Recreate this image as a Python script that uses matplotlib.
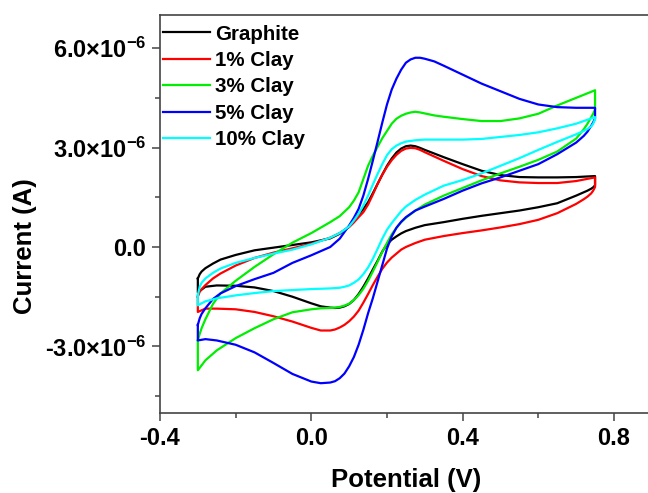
import matplotlib
matplotlib.use("Agg")
import matplotlib.pyplot as plt
from matplotlib.ticker import FixedLocator, FuncFormatter

plt.rcParams["font.family"] = ["Liberation Sans", "DejaVu Sans"]
plt.rcParams["font.weight"] = "bold"
plt.rcParams["mathtext.fontset"] = "custom"
plt.rcParams["mathtext.rm"] = "Liberation Sans:bold"
plt.rcParams["mathtext.bf"] = "Liberation Sans:bold"
plt.rcParams["mathtext.it"] = "Liberation Sans:bold"
plt.rcParams["mathtext.default"] = "rm"

# Scan potentials (V): anodic sweep, then cathodic sweep back
scan_forward_V = [-0.3, -0.295, -0.29, -0.28, -0.26, -0.24, -0.2, -0.15, -0.1, -0.05,
                  0.0, 0.05, 0.075, 0.1, 0.1125, 0.125, 0.1375, 0.15, 0.1625, 0.175,
                  0.1875, 0.2, 0.2125, 0.225, 0.2375, 0.25, 0.2625, 0.275, 0.2875, 0.3,
                  0.325, 0.35, 0.4, 0.45, 0.5, 0.55, 0.6, 0.65, 0.7, 0.75]
scan_reverse_V = [0.75, 0.745, 0.74, 0.73, 0.72, 0.7, 0.65, 0.6, 0.55, 0.5,
                  0.45, 0.4, 0.35, 0.3, 0.275, 0.25, 0.2375, 0.225, 0.2125, 0.2,
                  0.1875, 0.175, 0.1625, 0.15, 0.1375, 0.125, 0.1125, 0.1, 0.0875, 0.075,
                  0.0625, 0.05, 0.025, 0.0, -0.05, -0.1, -0.15, -0.2, -0.25, -0.28, -0.3]

# Currents in microamps
graphite_fwd = [-0.95, -0.82, -0.74, -0.64, -0.50, -0.38, -0.24, -0.10, -0.02, 0.06,
                0.14, 0.26, 0.40, 0.62, 0.80, 0.98, 1.15, 1.35, 1.62, 1.90,
                2.18, 2.45, 2.67, 2.85, 2.97, 3.04, 3.06, 3.04, 2.99, 2.93,
                2.82, 2.71, 2.50, 2.30, 2.17, 2.11, 2.10, 2.10, 2.11, 2.14]
graphite_rev = [1.86, 1.80, 1.76, 1.70, 1.65, 1.55, 1.32, 1.20, 1.10, 1.02,
                0.94, 0.85, 0.75, 0.66, 0.58, 0.48, 0.41, 0.32, 0.22, 0.08,
                -0.14, -0.42, -0.68, -0.95, -1.20, -1.42, -1.60, -1.72, -1.79, -1.83,
                -1.84, -1.83, -1.79, -1.70, -1.50, -1.33, -1.22, -1.17, -1.16, -1.20, -1.37]

clay1_fwd = [-1.50, -1.35, -1.27, -1.15, -0.95, -0.80, -0.56, -0.33, -0.17, -0.04,
             0.10, 0.28, 0.42, 0.60, 0.74, 0.90, 1.05, 1.28, 1.58, 1.90,
             2.18, 2.42, 2.62, 2.78, 2.90, 2.97, 2.99, 2.98, 2.93, 2.86,
             2.73, 2.60, 2.35, 2.14, 2.01, 1.95, 1.93, 1.93, 1.99, 2.10]
clay1_rev = [1.81, 1.70, 1.62, 1.52, 1.44, 1.30, 1.02, 0.82, 0.69, 0.59,
             0.50, 0.42, 0.33, 0.22, 0.12, 0.00, -0.08, -0.20, -0.32, -0.47,
             -0.66, -0.90, -1.15, -1.42, -1.68, -1.92, -2.10, -2.24, -2.35, -2.43,
             -2.49, -2.52, -2.52, -2.44, -2.25, -2.09, -1.96, -1.88, -1.86, -1.86, -1.96]

clay3_fwd = [-2.82, -2.62, -2.45, -2.18, -1.72, -1.40, -1.02, -0.60, -0.22, 0.13,
             0.42, 0.75, 0.93, 1.20, 1.40, 1.65, 2.05, 2.45, 2.75, 3.02,
             3.28, 3.50, 3.72, 3.87, 3.96, 4.02, 4.06, 4.08, 4.06, 4.03,
             3.97, 3.93, 3.86, 3.80, 3.80, 3.88, 4.02, 4.27, 4.50, 4.73]
clay3_rev = [4.15, 4.02, 3.92, 3.72, 3.55, 3.27, 2.88, 2.63, 2.42, 2.22,
             2.01, 1.78, 1.55, 1.28, 1.10, 0.88, 0.75, 0.58, 0.38, 0.12,
             -0.15, -0.45, -0.74, -1.02, -1.26, -1.45, -1.60, -1.71, -1.77, -1.81,
             -1.83, -1.84, -1.85, -1.88, -1.97, -2.18, -2.45, -2.75, -3.12, -3.42, -3.72]

clay5_fwd = [-2.35, -2.15, -2.02, -1.85, -1.57, -1.40, -1.18, -0.97, -0.78, -0.48,
             -0.25, 0.00, 0.25, 0.65, 0.88, 1.15, 1.55, 2.05, 2.60, 3.17,
             3.75, 4.30, 4.75, 5.08, 5.35, 5.56, 5.66, 5.71, 5.71, 5.68,
             5.60, 5.47, 5.20, 4.93, 4.70, 4.47, 4.30, 4.22, 4.20, 4.20]
clay5_rev = [3.88, 3.76, 3.66, 3.48, 3.35, 3.15, 2.80, 2.50, 2.30, 2.10,
             1.92, 1.70, 1.45, 1.22, 1.10, 0.90, 0.76, 0.58, 0.32, -0.05,
             -0.55, -1.05, -1.55, -2.00, -2.50, -2.95, -3.32, -3.60, -3.82, -3.96,
             -4.05, -4.09, -4.11, -4.06, -3.83, -3.50, -3.18, -2.95, -2.82, -2.78, -2.82]

clay10_fwd = [-1.45, -1.20, -1.08, -0.95, -0.78, -0.65, -0.48, -0.33, -0.20, -0.08,
              0.08, 0.28, 0.42, 0.62, 0.80, 1.00, 1.25, 1.55, 1.88, 2.20,
              2.50, 2.77, 2.95, 3.06, 3.13, 3.18, 3.20, 3.22, 3.23, 3.24,
              3.24, 3.24, 3.24, 3.26, 3.32, 3.38, 3.46, 3.58, 3.72, 3.92]
clay10_rev = [3.85, 3.72, 3.64, 3.56, 3.50, 3.40, 3.17, 2.93, 2.68, 2.45,
              2.22, 2.02, 1.85, 1.58, 1.42, 1.22, 1.08, 0.90, 0.72, 0.52,
              0.25, -0.06, -0.36, -0.62, -0.82, -0.98, -1.08, -1.16, -1.20, -1.23,
              -1.24, -1.25, -1.26, -1.27, -1.30, -1.33, -1.39, -1.46, -1.55, -1.64, -1.76]

labels = ["Graphite", "1% Clay", "3% Clay", "5% Clay", "10% Clay"]
colors = ["#000000", "#FF0000", "#00EE00", "#0000FF", "#00FFFF"]
series = [(graphite_fwd, graphite_rev), (clay1_fwd, clay1_rev), (clay3_fwd, clay3_rev),
          (clay5_fwd, clay5_rev), (clay10_fwd, clay10_rev)]

fig = plt.figure(figsize=(6.48, 4.93), dpi=100)
ax = fig.add_axes([160 / 648, 80.3 / 493, 491.8 / 648, 397.7 / 493])

loop_V = scan_forward_V + scan_reverse_V + scan_forward_V[:1]
for (fwd, rev), lab, col in zip(series, labels, colors):
    loop_I = [v * 1e-6 for v in fwd + rev + fwd[:1]]
    ax.plot(loop_V, loop_I, color=col, lw=1.6, label=lab, solid_joinstyle="round")

ax.set_xlim(-0.4, 0.9)
ax.set_ylim(-5.0e-6, 7.0e-6)

ax.xaxis.set_major_locator(FixedLocator([-0.4, 0.0, 0.4, 0.8]))
ax.xaxis.set_minor_locator(FixedLocator([-0.2, 0.2, 0.6]))
ax.yaxis.set_major_locator(FixedLocator([-3e-6, 0.0, 3e-6, 6e-6]))
ax.yaxis.set_minor_locator(FixedLocator([-4.5e-6, -1.5e-6, 1.5e-6, 4.5e-6]))


def fmt_x(v, pos):
    return f"{v:.1f}"


def fmt_y(v, pos):
    if abs(v) < 1e-12:
        return "0.0"
    m = v / 1e-6
    return f"{m:.1f}" + r"$\times$10$^{-6}$"


ax.xaxis.set_major_formatter(FuncFormatter(fmt_x))
ax.yaxis.set_major_formatter(FuncFormatter(fmt_y))

ax.tick_params(which="major", direction="out", length=6, width=1.1, color="#444444",
               labelsize=17, pad=4)
ax.tick_params(which="minor", direction="out", length=3.5, width=1.1, color="#444444")
for lab in ax.get_xticklabels() + ax.get_yticklabels():
    lab.set_fontweight("bold")

for sp in ax.spines.values():
    sp.set_color("#444444")
    sp.set_linewidth(1.2)

ax.set_xlabel("Potential (V)", fontsize=18.5, fontweight="bold", labelpad=13)
ax.set_ylabel("Current (A)", fontsize=18.5, fontweight="bold")
ax.yaxis.set_label_coords(37 / 648, 0.5, transform=fig.transFigure)

leg = ax.legend(loc="upper left", bbox_to_anchor=(163 / 648, 1 - 24.5 / 493),
                bbox_transform=fig.transFigure, frameon=False, fontsize=14.8,
                handlelength=2.3, handletextpad=0.25, labelspacing=0.36,
                borderpad=0, borderaxespad=0)
for t in leg.get_texts():
    t.set_fontweight("bold")

fig.savefig("out.png", dpi=100)
